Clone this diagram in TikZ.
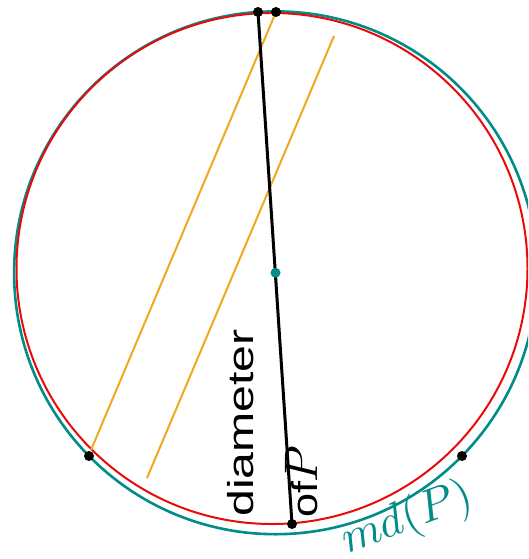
\documentclass[tikz,border=0pt]{standalone}
\usepackage{fontspec}
\newfontfamily\labfont{Liberation Sans}
\definecolor{mdteal}{RGB}{0,140,135}
\definecolor{cred}{RGB}{235,10,10}
\definecolor{corange}{RGB}{242,168,30}
\begin{document}
\begin{tikzpicture}[x=1pt,y=-1pt,
  dot/.style={circle,fill=black,inner sep=0pt,minimum size=10pt},
  tdot/.style={circle,fill=mdteal,inner sep=0pt,minimum size=10pt},
  chord/.style={corange,line width=2pt},
  diam/.style={black,line width=3pt},
  lab/.style={font=\labfont\fontsize{36}{40}\selectfont,inner sep=0pt}]
\useasboundingbox (0,0) rectangle (528,559);
\clip (0,0) rectangle (528,559);
% centres
\coordinate (tc) at (275.5,272.8);
\coordinate (rc) at (272,268.5);
% circles
\draw[mdteal,line width=2.6pt] (tc) circle[radius=261.4pt];
\draw[cred,line width=2pt] (rc) circle[radius=255.5pt];
% points
\coordinate (a) at (258,12);
\coordinate (b) at (276,12);
\coordinate (c) at (89,456);
\coordinate (d) at (462,456);
\coordinate (e) at (292,524);
\coordinate (o1) at (91,450);
\coordinate (o2a) at (334,36);
\coordinate (o2b) at (147,478);
% orange chords
\draw[chord] (b) -- (o1);
\draw[chord] (o2a) -- (o2b);
% diameter
\draw[diam] (a) -- (e);
% dots
\node[dot] (na) at (a) {};
\node[dot] (nb) at (b) {};
\node[dot] (nc) at (c) {};
\node[dot] (nd) at (d) {};
\node[dot] (ne) at (e) {};
\node[tdot] (nt) at (tc) {};
% labels
\node[lab,rotate=90,anchor=base west] (l1) at (253,517) {\scalebox{1.34}[1]{diameter}};
\node[lab,rotate=90,anchor=base west] (l2) at (317,518) {\scalebox{1.2}[1]{of}\hspace{-1pt}{\fontsize{10}{12}\selectfont\scalebox{4.7}{$P$}}};
\node[mdteal,inner sep=0pt,rotate=20] (md) at (407,519) {\scalebox{4.6}{$md(P)$}};
\end{tikzpicture}
\end{document}
